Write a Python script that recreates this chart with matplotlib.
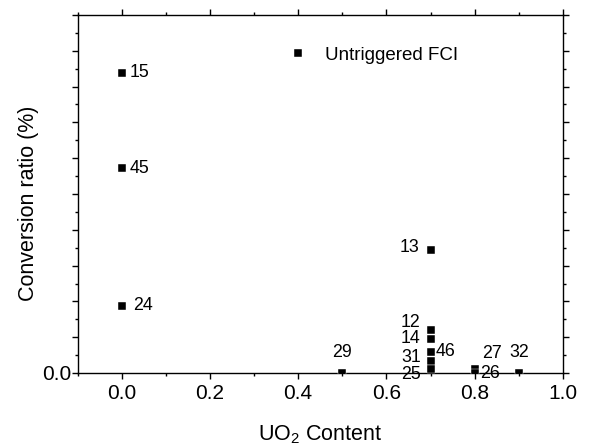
import matplotlib
matplotlib.use("Agg")
import matplotlib.pyplot as plt
from matplotlib.ticker import MultipleLocator, FuncFormatter

plt.rcParams['font.family'] = ['Liberation Sans', 'DejaVu Sans']
plt.rcParams['mathtext.fontset'] = 'custom'
plt.rcParams['mathtext.rm'] = 'Liberation Sans'
plt.rcParams['mathtext.it'] = 'Liberation Sans:italic'

# data: UO2 content, conversion ratio (arbitrary axis units), run labels
uo2 = [0.0, 0.0, 0.0, 0.7, 0.7, 0.7, 0.7, 0.7, 0.7, 0.5, 0.8, 0.8, 0.9]
ratio = [8.39, 5.72, 1.88, 3.44, 1.20, 0.95, 0.59, 0.34, 0.11, 0.0, 0.12, 0.0, 0.0]
labels = ['15', '45', '24', '13', '12', '14', '46', '31', '25', '29', '27', '26', '32']
# label offsets in points (dx, dy) and alignment
offsets = {
    '15': (6, 0, 'left', 'center'),
    '45': (6, 0, 'left', 'center'),
    '24': (8, 0, 'left', 'center'),
    '13': (-8, 2, 'right', 'center'),
    '12': (-7, 5.5, 'right', 'center'),
    '14': (-7, 0, 'right', 'center'),
    '46': (3.5, 0, 'left', 'center'),
    '31': (-7, 2.5, 'right', 'center'),
    '25': (-7, -4, 'right', 'center'),
    '29': (0, 8.5, 'center', 'bottom'),
    '27': (5.5, 4.5, 'left', 'bottom'),
    '26': (4, 0, 'left', 'center'),
    '32': (0, 8.5, 'center', 'bottom'),
}

fig = plt.figure(figsize=(5.89, 4.46), dpi=100)
ax = fig.add_axes([77.5/589, 73/446, 485.5/589, 358/446])

ax.plot(uo2, ratio, linestyle='none', marker='s', ms=5.6, mfc='black',
        mec='white', mew=0.3, label='Untriggered FCI', zorder=3)

for x, y, lab in zip(uo2, ratio, labels):
    dx, dy, ha, va = offsets[lab]
    ax.annotate(lab, (x, y), xytext=(dx, dy), textcoords='offset points',
                ha=ha, va=va, fontsize=12.8, zorder=5)

ax.set_xlim(-0.1, 1.0)
ax.set_ylim(0, 10)
ax.xaxis.set_major_locator(MultipleLocator(0.2))
ax.xaxis.set_minor_locator(MultipleLocator(0.1))
ax.yaxis.set_major_locator(MultipleLocator(1))
ax.yaxis.set_minor_locator(MultipleLocator(0.5))
ax.xaxis.set_major_formatter(FuncFormatter(lambda v, p: f"{v:.1f}"))
ax.yaxis.set_major_formatter(FuncFormatter(lambda v, p: "0.0" if abs(v) < 1e-9 else ""))

ax.tick_params(which='both', direction='out', top=True, right=True, width=1,
               labelsize=15)
ax.tick_params(axis='x', which='major', pad=4)
ax.tick_params(axis='y', which='major', pad=0.5)
ax.tick_params(which='major', length=4)
ax.tick_params(which='minor', length=2.3)
for s in ax.spines.values():
    s.set_linewidth(1)

ax.set_xlabel('UO$_\\mathregular{2}$ Content', fontsize=15.5)
ax.set_ylabel('Conversion ratio (%)', fontsize=15.5)
ax.xaxis.set_label_coords(0.5, -0.14)
ax.yaxis.set_label_coords(-0.079, 0.475)

ax.legend(loc='center left', bbox_to_anchor=(0.4344, 0.888), frameon=False,
          borderpad=0, handlelength=1, handletextpad=0.95, numpoints=1,
          fontsize=13.5, borderaxespad=0)

fig.savefig('out.png', dpi=100)
